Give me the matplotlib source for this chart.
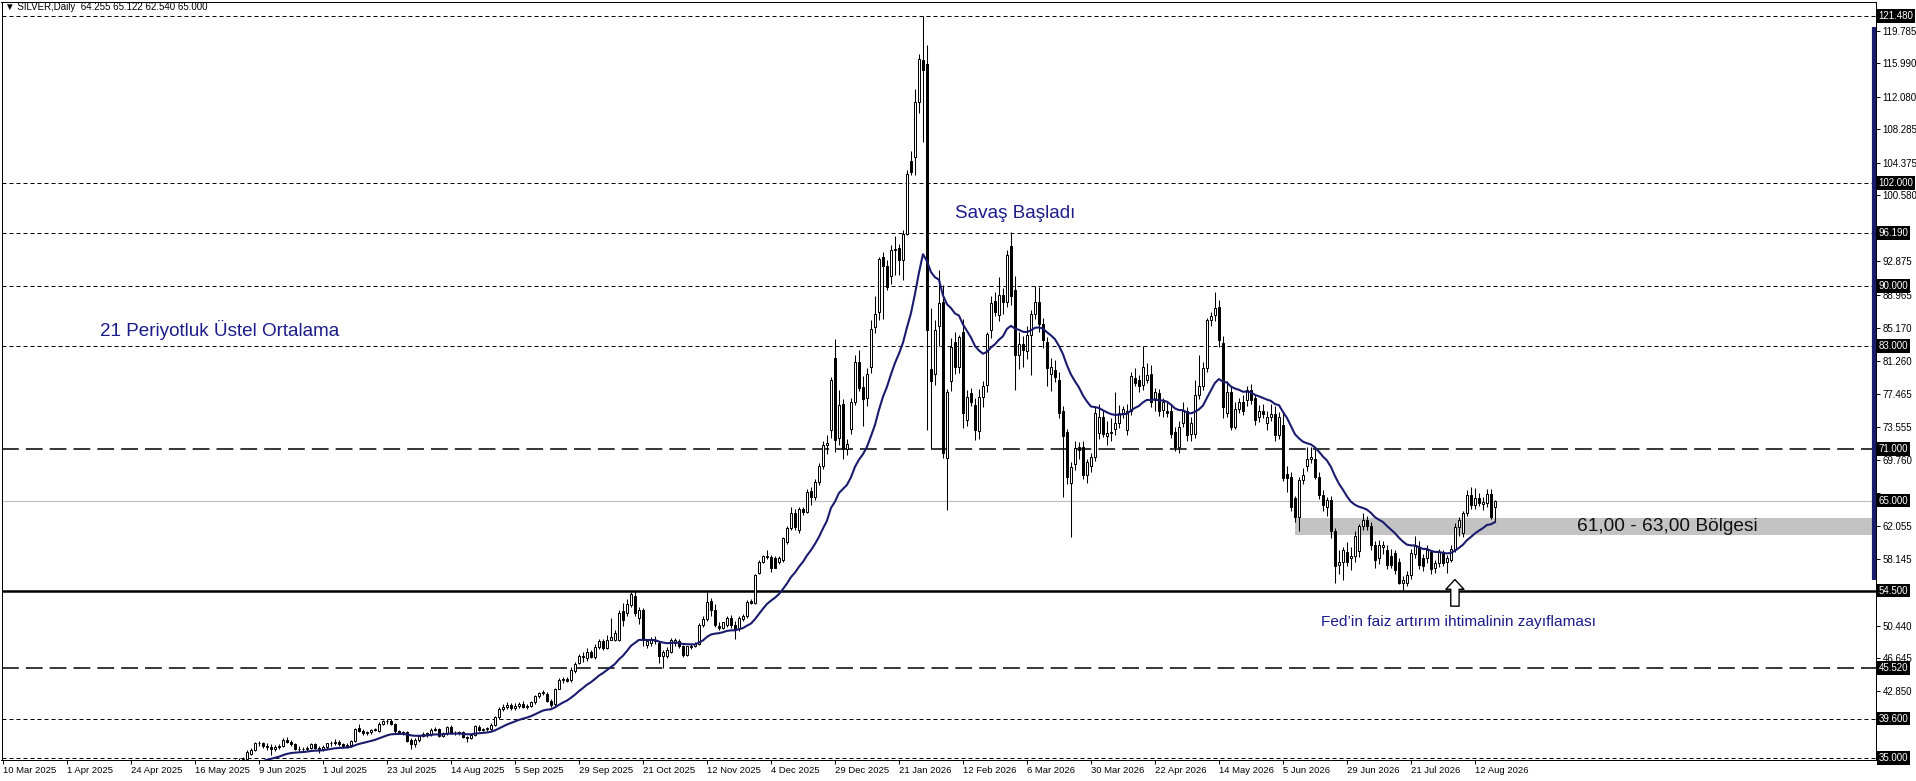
import numpy as np
import pandas as pd
import matplotlib
matplotlib.use('Agg')
import matplotlib.pyplot as plt
import matplotlib.patches as mpatches
import matplotlib.transforms as mtransforms

W, H = 1916, 781

# bar index of the first drawn candle; the bars before it sit under 35.00
first_bar = 58

# closes of the hidden bars (needed only to warm up the moving average)
warmup_closes = [
    32.6, 32.9, 32.8, 33.1, 33.6, 33.9, 33.7, 33.4, 33.9, 34.1,
    34.0, 33.8, 34.2, 33.6, 33.9, 34.3, 34.1, 33.7, 31.8, 30.5,
    29.9, 30.8, 31.4, 30.6, 31.2, 32.0, 32.5, 32.7, 32.9, 33.1,
    32.8, 33.0, 32.6, 32.4, 33.1, 32.7, 32.5, 32.3, 32.9, 32.6,
    32.4, 32.2, 32.6, 32.4, 33.0, 33.2, 33.0, 33.3, 33.1, 33.4,
    33.6, 33.0, 33.3, 33.5, 33.2, 33.6, 34.0, 34.2,
]

opens = [
    34.4, 34.6, 34.5, 34.9, 35.5, 35.9, 36.7, 36.8, 36.4, 36.3,
    36.1, 36.3, 36.4, 37.1, 36.9, 36.6, 36.1, 36.0, 36.1, 36.2,
    36.6, 36.2, 36.0, 36.3, 36.7, 36.8, 36.9, 36.6, 36.4, 36.5,
    37.0, 38.5, 38.2, 37.9, 38.0, 38.3, 38.2, 39.0, 39.3, 39.3,
    39.0, 38.1, 37.9, 38.0, 37.1, 36.6, 37.1, 37.6, 37.8, 37.8,
    38.3, 38.4, 37.6, 37.9, 38.6, 37.9, 37.9, 38.0, 37.4, 37.3,
    37.7, 38.6, 38.3, 38.4, 38.4, 38.9, 39.8, 40.7, 41.0, 41.2,
    40.8, 41.1, 41.3, 40.9, 41.1, 41.5, 42.2, 42.6, 42.5, 41.6,
    41.3, 43.1, 44.1, 44.2, 44.1, 45.1, 46.1, 46.9, 46.6, 47.4,
    46.8, 47.9, 48.6, 47.8, 48.8, 48.8, 48.8, 52.1, 51.9, 52.8,
    53.9, 51.3, 52.3, 48.2, 48.4, 48.8, 48.4, 46.9, 46.9, 47.4,
    48.4, 48.6, 48.05, 47.0, 47.9, 48.0, 48.3, 50.5, 51.2, 53.3,
    52.2, 50.4, 50.1, 50.5, 51.35, 50.5, 50.1, 51.2, 51.5, 53.3,
    53.1, 56.6, 57.9, 58.4, 58.4, 58.3, 57.9, 58.1, 60.2, 61.8,
    63.5, 61.6, 64.0, 63.7, 66.1, 65.4, 67.2, 69.0, 71.5, 73.2,
    81.6, 72.3, 76.3, 71.0, 73.4, 76.5, 81.2, 78.2, 77.0, 80.6,
    85.2, 87.0, 93.4, 92.3, 91.2, 94.2, 94.4, 93.0, 96.1, 104.6,
    105.1, 111.5, 116.3, 115.9, 80.3, 79.8, 85.3, 88.1, 70.0, 78.9,
    83.5, 80.6, 84.7, 74.4, 77.5, 76.1, 73.1, 77.1, 78.5, 84.9,
    88.3, 86.6, 89.0, 88.2, 94.7, 89.6, 82.0, 83.3, 82.4, 84.3,
    86.8, 88.1, 85.6, 83.5, 79.8, 80.2, 79.1, 75.5, 73.0, 67.0,
    69.3, 71.3, 71.3, 68.0, 69.0, 70.1, 72.9, 74.8, 72.5, 72.9,
    73.3, 74.1, 75.2, 73.2, 75.4, 79.3, 79.0, 78.5, 79.0, 79.8,
    76.7, 77.5, 75.6, 75.5, 75.5, 73.0, 71.3, 74.0, 75.4, 72.8,
    72.8, 77.3, 78.4, 80.4, 86.1, 86.6, 87.6, 83.4, 75.2, 77.7,
    73.6, 75.7, 76.5, 76.7, 77.9, 76.9, 74.8, 75.5, 74.0, 74.8,
    75.1, 72.6, 73.8, 68.1, 67.8, 65.3, 63.1, 67.4, 69.0, 69.9,
    69.9, 67.8, 65.7, 64.2, 65.1, 61.4, 57.5, 57.9, 59.0, 58.3,
    58.6, 59.1, 62.0, 62.7, 62.0, 59.8, 58.3, 59.6, 59.3, 58.6,
    58.9, 57.9, 55.4, 55.4, 56.3, 58.8, 59.6, 58.3, 58.3, 59.05,
    57.1, 57.7, 59.05, 57.8, 58.1, 59.4, 61.9, 61.2, 63.5, 65.7,
    64.5, 65.3, 64.6, 64.7, 65.8, 64.255,
]
highs = [
    34.9, 35.0, 35.1, 35.9, 36.2, 36.9, 37.0, 36.9, 36.7, 36.6,
    36.5, 36.6, 37.3, 37.4, 37.1, 36.8, 36.4, 36.3, 36.4, 36.7,
    36.8, 36.4, 36.5, 36.8, 37.0, 37.2, 37.1, 36.8, 36.7, 37.1,
    38.5, 39.0, 38.4, 38.2, 38.4, 38.5, 39.2, 39.4, 39.6, 39.5,
    39.1, 38.3, 38.2, 38.1, 37.3, 37.3, 37.7, 38.0, 38.0, 38.5,
    38.6, 38.5, 38.0, 38.7, 38.8, 38.1, 38.1, 38.1, 37.6, 37.8,
    38.9, 38.8, 38.5, 38.6, 39.1, 39.9, 40.9, 41.3, 41.5, 41.4,
    41.4, 41.5, 41.6, 41.3, 41.6, 42.3, 42.7, 42.9, 42.7, 41.9,
    43.2, 44.3, 44.4, 44.4, 45.6, 46.2, 47.1, 47.3, 47.8, 47.6,
    48.3, 48.9, 48.9, 49.3, 51.3, 49.9, 52.3, 53.1, 53.5, 54.3,
    54.6, 52.6, 52.5, 48.9, 49.1, 49.2, 48.6, 47.6, 47.9, 49.0,
    49.0, 48.9, 48.2, 48.1, 48.3, 48.5, 50.7, 51.5, 54.4, 53.6,
    53.0, 50.9, 50.9, 51.6, 51.7, 51.0, 51.5, 51.8, 53.4, 53.5,
    56.5, 58.1, 58.7, 59.2, 58.7, 58.5, 58.6, 60.8, 62.0, 64.3,
    64.0, 64.2, 64.3, 66.4, 66.6, 67.5, 69.4, 71.9, 72.6, 79.4,
    83.8, 77.9, 76.8, 72.2, 77.0, 82.0, 82.6, 79.5, 80.4, 86.0,
    88.9, 93.4, 94.0, 93.0, 94.8, 95.8, 94.9, 96.5, 103.5, 105.8,
    113.0, 117.0, 121.48, 118.1, 87.4, 86.1, 91.9, 90.1, 78.0, 83.9,
    84.6, 84.3, 86.2, 77.9, 78.1, 77.0, 78.0, 78.9, 84.6, 88.9,
    89.3, 91.1, 89.8, 94.2, 96.3, 91.2, 84.6, 84.2, 85.3, 87.2,
    90.0, 89.9, 86.3, 84.1, 81.6, 81.4, 80.0, 76.0, 73.4, 69.5,
    72.0, 71.8, 71.9, 69.8, 70.5, 76.0, 76.3, 75.6, 74.3, 74.6,
    77.6, 76.2, 76.0, 76.3, 80.0, 80.4, 79.6, 83.0, 81.0, 80.8,
    78.1, 78.0, 77.0, 76.6, 76.3, 73.6, 74.3, 76.5, 75.9, 74.7,
    79.0, 82.0, 81.2, 86.3, 87.0, 89.3, 88.4, 84.2, 78.9, 78.4,
    76.5, 77.0, 77.3, 78.4, 78.6, 77.4, 76.2, 76.3, 75.4, 76.3,
    76.0, 75.3, 75.3, 69.0, 68.3, 65.5, 67.7, 68.8, 71.2, 71.3,
    71.3, 68.3, 66.2, 65.4, 65.5, 61.8, 59.2, 59.6, 60.2, 59.6,
    61.5, 62.3, 63.6, 63.2, 62.5, 60.3, 60.4, 60.3, 59.8, 59.4,
    59.3, 58.3, 56.2, 56.8, 59.4, 60.9, 60.3, 58.8, 59.8, 59.3,
    58.1, 59.4, 59.3, 58.7, 59.8, 62.4, 63.1, 63.8, 66.2, 66.6,
    66.5, 65.9, 65.4, 66.3, 66.4, 65.122,
]
lows = [
    34.1, 34.3, 34.2, 34.8, 35.3, 35.8, 36.4, 36.2, 35.9, 35.4,
    35.8, 36.0, 36.3, 36.7, 36.4, 35.9, 35.7, 35.8, 35.8, 36.0,
    36.0, 35.6, 35.8, 36.1, 36.4, 36.5, 36.4, 36.2, 36.2, 36.3,
    36.9, 38.0, 37.7, 37.7, 37.8, 38.1, 38.0, 38.9, 39.0, 38.8,
    37.9, 37.8, 37.7, 36.9, 36.1, 36.3, 36.9, 37.4, 37.5, 37.6,
    38.1, 37.5, 37.4, 37.7, 37.8, 37.7, 37.7, 37.3, 36.9, 37.2,
    37.6, 38.2, 38.1, 38.1, 38.3, 38.7, 39.6, 40.5, 40.7, 40.6,
    40.6, 40.8, 40.8, 40.7, 40.9, 41.3, 42.0, 42.4, 41.5, 41.0,
    41.1, 43.0, 43.8, 43.9, 43.9, 44.9, 45.9, 46.2, 46.3, 46.6,
    46.5, 47.7, 47.6, 47.7, 48.7, 48.6, 48.6, 50.4, 51.5, 52.6,
    51.6, 50.6, 48.0, 47.8, 48.1, 48.3, 46.1, 45.45, 46.6, 47.2,
    48.1, 47.8, 46.8, 46.9, 47.7, 47.9, 48.2, 50.3, 51.0, 51.5,
    50.3, 49.9, 50.0, 50.3, 50.2, 48.9, 49.8, 51.0, 51.3, 52.9,
    53.0, 56.4, 57.7, 58.2, 56.7, 57.1, 57.6, 57.9, 60.0, 61.6,
    61.6, 61.2, 63.3, 63.5, 64.5, 65.1, 66.8, 68.7, 70.4, 72.3,
    70.7, 71.5, 69.9, 70.3, 72.8, 76.2, 77.8, 73.7, 76.0, 79.9,
    84.5, 86.0, 86.2, 89.5, 90.2, 91.3, 91.3, 90.7, 96.0, 102.9,
    102.9, 110.2, 106.8, 73.2, 71.0, 78.5, 83.0, 70.0, 63.9, 77.8,
    79.8, 79.9, 73.5, 73.7, 76.0, 72.1, 72.2, 75.9, 77.6, 84.0,
    86.5, 85.9, 86.7, 87.6, 87.8, 77.9, 80.3, 80.6, 81.5, 79.6,
    86.2, 84.6, 82.8, 78.3, 77.8, 78.8, 74.6, 65.4, 66.9, 60.8,
    68.6, 69.9, 67.5, 67.0, 68.3, 69.6, 72.2, 72.4, 71.5, 72.0,
    72.6, 73.5, 74.6, 72.7, 75.0, 78.3, 77.6, 77.9, 78.7, 75.9,
    75.4, 74.9, 74.7, 74.7, 72.3, 70.8, 70.6, 73.6, 71.9, 72.0,
    72.3, 76.8, 77.9, 80.0, 85.3, 85.9, 82.9, 74.6, 74.8, 73.2,
    73.3, 75.2, 75.0, 76.0, 76.3, 73.8, 74.2, 74.6, 73.2, 74.3,
    72.0, 72.2, 67.3, 66.0, 63.8, 62.5, 61.4, 66.9, 68.5, 69.4,
    67.5, 65.2, 63.8, 63.2, 60.6, 55.4, 56.5, 55.7, 57.4, 56.9,
    57.8, 58.4, 61.6, 61.6, 59.2, 57.1, 57.6, 58.8, 57.0, 57.2,
    56.4, 55.3, 54.6, 55.0, 55.9, 58.3, 57.0, 56.8, 57.7, 56.5,
    56.6, 57.3, 57.4, 56.6, 57.8, 59.0, 60.9, 60.8, 63.2, 64.0,
    64.0, 64.4, 63.9, 64.3, 62.9, 62.54,
]
closes = [
    34.6, 34.5, 34.9, 35.7, 35.9, 36.7, 36.8, 36.4, 36.3, 36.1,
    36.3, 36.4, 37.1, 36.9, 36.6, 36.1, 36.0, 36.1, 36.2, 36.6,
    36.2, 36.0, 36.3, 36.7, 36.8, 36.9, 36.6, 36.4, 36.5, 37.0,
    38.4, 38.2, 37.9, 38.0, 38.3, 38.3, 39.0, 39.3, 39.3, 39.0,
    38.1, 37.9, 38.0, 37.0, 36.6, 37.1, 37.6, 37.8, 37.8, 38.3,
    38.4, 37.6, 37.9, 38.6, 37.9, 37.9, 38.0, 37.4, 37.3, 37.7,
    38.7, 38.3, 38.4, 38.4, 38.9, 39.8, 40.7, 41.0, 41.2, 40.8,
    41.1, 41.3, 40.9, 41.1, 41.5, 42.2, 42.6, 42.7, 41.6, 41.2,
    43.1, 44.1, 44.2, 44.0, 45.3, 46.0, 46.9, 46.8, 47.4, 46.8,
    47.9, 48.6, 47.8, 48.8, 49.1, 49.6, 51.9, 51.1, 53.0, 54.1,
    51.9, 52.2, 48.75, 48.6, 48.8, 48.6, 46.9, 47.3, 47.6, 48.8,
    48.8, 48.05, 47.0, 48.0, 48.1, 48.3, 50.5, 51.2, 53.2, 52.2,
    50.5, 50.1, 50.8, 51.35, 50.5, 49.9, 51.3, 51.5, 53.2, 53.1,
    56.3, 57.9, 58.5, 58.5, 57.2, 57.1, 58.3, 60.6, 61.8, 63.5,
    61.9, 64.0, 63.7, 66.0, 65.4, 67.2, 69.0, 71.5, 71.7, 79.1,
    72.1, 76.1, 71.0, 71.6, 76.5, 81.2, 78.1, 76.8, 79.8, 85.0,
    86.8, 93.2, 92.3, 89.9, 94.2, 94.3, 93.0, 96.1, 103.1, 103.3,
    111.5, 116.5, 115.2, 84.9, 78.9, 84.9, 88.0, 70.6, 77.6, 82.9,
    80.6, 84.1, 75.2, 77.1, 76.5, 73.2, 77.1, 78.4, 84.4, 88.0,
    87.0, 89.0, 88.2, 93.6, 88.9, 82.0, 83.3, 82.5, 84.3, 86.8,
    88.1, 85.6, 83.7, 80.4, 80.6, 79.4, 75.2, 72.5, 67.8, 68.9,
    71.1, 70.9, 68.0, 69.5, 70.1, 75.2, 74.8, 72.8, 72.9, 73.0,
    74.1, 75.2, 75.7, 75.5, 79.5, 78.7, 78.4, 80.6, 79.6, 76.5,
    77.7, 75.4, 76.5, 75.2, 72.8, 71.3, 73.6, 75.4, 72.6, 74.1,
    77.3, 78.4, 80.4, 86.1, 86.5, 87.4, 83.7, 75.9, 77.7, 73.6,
    75.7, 76.5, 75.4, 77.9, 76.7, 74.4, 75.5, 75.1, 74.8, 75.1,
    72.6, 74.8, 67.6, 67.6, 64.3, 63.1, 67.4, 68.0, 69.9, 70.1,
    67.8, 65.7, 64.5, 65.1, 61.4, 57.4, 57.9, 59.2, 57.9, 58.6,
    60.9, 62.0, 62.7, 62.0, 59.8, 58.1, 59.8, 59.8, 57.5, 57.5,
    56.9, 55.4, 55.7, 56.3, 58.9, 59.7, 57.5, 57.4, 59.3, 57.0,
    57.7, 59.05, 57.7, 58.3, 59.4, 61.9, 62.7, 63.5, 65.7, 64.5,
    65.3, 64.7, 64.8, 65.8, 63.1, 65.0,
]

# one label every 16 bars, starting at bar 0
date_labels = ['10 Mar 2025', '1 Apr 2025', '24 Apr 2025', '16 May 2025',
               '9 Jun 2025', '1 Jul 2025', '23 Jul 2025', '14 Aug 2025',
               '5 Sep 2025', '29 Sep 2025', '21 Oct 2025', '12 Nov 2025',
               '4 Dec 2025', '29 Dec 2025', '21 Jan 2026', '12 Feb 2026',
               '6 Mar 2026', '30 Mar 2026', '22 Apr 2026', '14 May 2026',
               '5 Jun 2026', '29 Jun 2026', '21 Jul 2026', '12 Aug 2026']
label_step = 16

scale_ticks = [119.785, 115.990, 112.080, 108.285, 104.375, 100.580, 96.670,
               92.875, 88.965, 85.170, 81.260, 77.465, 73.555, 69.760, 65.850,
               62.055, 58.145, 54.350, 50.440, 46.645, 42.850, 38.940]

dotted_levels = [121.48, 102.0, 96.19, 90.0, 83.0, 39.6, 35.0]
dashed_levels = [71.0, 45.52]
support_level = 54.5
last_price = 65.0
boxed_prices = [121.48, 102.0, 96.19, 90.0, 83.0, 71.0, 65.0, 54.5, 45.52, 39.6, 35.0]

zone_low, zone_high = 61.0, 63.0
zone_start = 323
ema_period = 21

# navy strip on the price scale (top and bottom price)
scale_strip = (55.7, 120.2)

NAVY = '#1c1c8a'
EMA_COL = '#1b1b6e'

assert len(opens) == len(highs) == len(lows) == len(closes)

o = np.array(opens)
h = np.array(highs)
l = np.array(lows)
c = np.array(closes)
x = np.arange(first_bar, first_bar + len(c))

all_closes = pd.Series(warmup_closes + closes)
ema = all_closes.ewm(span=ema_period, adjust=False).mean()

plt.rcParams['font.family'] = ['Liberation Sans', 'DejaVu Sans']

fig = plt.figure(figsize=(W / 100, H / 100), dpi=100)
fig.patch.set_facecolor('white')
ax = fig.add_axes([1.5 / W, 21 / H, 1874.2 / W, 757.5 / H])
ax.set_xlim(-0.375, 468.2)
ax.set_ylim(34.77, 123.05)

# horizontal levels
for lv in dotted_levels:
    ax.axhline(lv, color='black', lw=0.72, ls=(0, (4, 3)), zorder=1)
for lv in dashed_levels:
    ax.axhline(lv, color='black', lw=1.1, ls=(0, (11, 4.6)), zorder=1)
ax.axhline(support_level, color='black', lw=1.8, zorder=1)
ax.axhline(last_price, color='#c0c0c0', lw=0.9, zorder=1)

# 61-63 zone
ax.add_patch(mpatches.Rectangle((zone_start, zone_low), ax.get_xlim()[1] - zone_start,
                                zone_high - zone_low, facecolor='#c3c3c3',
                                edgecolor='none', zorder=1.5))

# candles
up = c >= o
ax.vlines(x, l, h, color='black', lw=0.75, zorder=2)
body_bottom = np.minimum(o, c)
body_height = np.maximum(np.abs(c - o), 0.06)
ax.bar(x, body_height, bottom=body_bottom, width=0.52,
       color=np.where(up, 'white', 'black'), edgecolor='black',
       linewidth=0.72, zorder=3)

# moving average
ax.plot(np.arange(len(all_closes)), ema, color=EMA_COL, lw=1.5, zorder=4)

# navy strip along the right edge of the chart
ax.vlines(ax.get_xlim()[1] - 0.4, scale_strip[0], scale_strip[1], color='#1b1b6e',
          lw=3.0, zorder=5, clip_on=False)

# texts
ax.text(24.25, 84.9, '21 Periyotluk Üstel Ortalama', color=NAVY, fontsize=13.6,
        va='center', ha='left', zorder=6)
ax.text(238, 98.5, 'Savaş Başladı', color=NAVY, fontsize=13.6,
        va='center', ha='left', zorder=6)
ax.text(329.5, 50.9, 'Fed’in faiz artırım ihtimalinin zayıflaması', color=NAVY,
        fontsize=11.1, va='center', ha='left', zorder=6)
ax.text(416, 62.0, '61,00 - 63,00 Bölgesi', color='#111111', fontsize=13.8,
        va='center', ha='center', zorder=6)

# hollow arrow under the turn
ax.annotate('', xy=(363, 55.8), xytext=(363, 52.7),
            arrowprops=dict(arrowstyle='simple,head_length=0.7,head_width=1.3,tail_width=0.6',
                            fc='white', ec='black', lw=1.0, shrinkA=0, shrinkB=0),
            zorder=6)

# axes style
for sp in ax.spines.values():
    sp.set_color('black')
    sp.set_linewidth(0.72)

# scale labels hidden under a boxed price are left blank
def scale_text(v):
    if any(abs(v - p) < 1.0 for p in boxed_prices):
        return ''
    return f'{v:.3f}'

ax.yaxis.tick_right()
ax.set_yticks(scale_ticks)
ax.set_yticklabels([scale_text(v) for v in scale_ticks])
ax.tick_params(axis='y', length=3, width=0.7, pad=2, labelsize=7, colors='black')

ticks = np.arange(0, label_step * len(date_labels), label_step)
ax.set_xticks(ticks)
ax.set_xticklabels(date_labels)
ax.tick_params(axis='x', length=3, width=0.7, pad=1.5, labelsize=6.8, colors='black')
for lbl in ax.get_xticklabels():
    lbl.set_horizontalalignment('left')

# boxed price labels on the scale
box_tr = mtransforms.blended_transform_factory(ax.transAxes, ax.transData) + \
    mtransforms.ScaledTranslation(3 / 100, 0, fig.dpi_scale_trans)
for p in boxed_prices:
    ax.text(1.0, p, f'{p:.3f}', transform=box_tr, color='white', fontsize=7,
            va='center', ha='left', clip_on=False, zorder=10,
            bbox=dict(boxstyle='square,pad=0.18', fc='black', ec='none'))

fig.text(5 / W, 1 - 7.5 / H, '▼ SILVER,Daily  64.255 65.122 62.540 65.000',
         fontsize=7, va='center', ha='left', color='black')

fig.savefig('out.png', dpi=100, facecolor='white')
